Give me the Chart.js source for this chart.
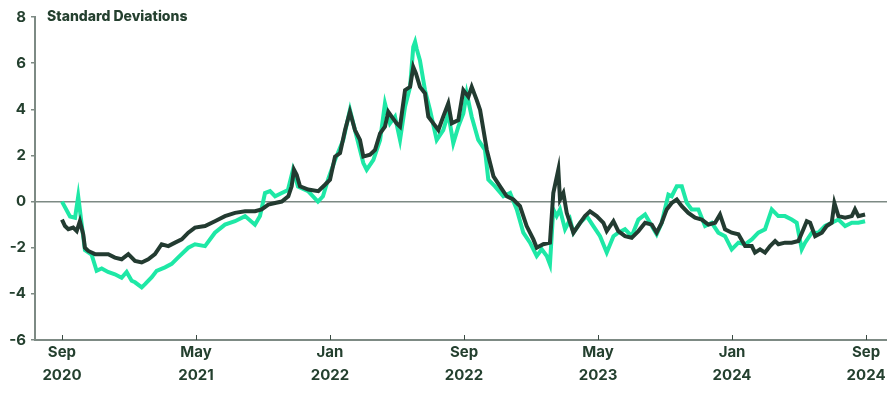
<!DOCTYPE html>
<html>
<head>
<meta charset="utf-8">
<script src="https://cdn.jsdelivr.net/npm/chart.js@4.4.1/dist/chart.umd.min.js"></script>
<style>
  html, body { margin: 0; padding: 0; background: #fff; }
  #wrap { width: 887px; height: 405px; }
</style>
</head>
<body>
<div id="wrap"><canvas id="sdChart"></canvas></div>
<script>
// x values are months since Sep 2020
const xTickValues = [0, 8, 16, 24, 32, 40, 48];
const xTickLabels = [['Sep', '2020'], ['May', '2021'], ['Jan', '2022'], ['Sep', '2022'], ['May', '2023'], ['Jan', '2024'], ['Sep', '2024']];

const greenX = [0, 0.48, 0.78, 0.97, 1.18, 1.37, 1.77, 2.07, 2.37, 2.75, 3.16, 3.56, 3.86, 4.16, 4.36, 4.76, 4.96, 5.36, 5.65, 6.15, 6.55, 6.94, 7.54, 7.94, 8.54, 9.13, 9.73, 10.33, 10.93, 11.52, 11.82, 12.12, 12.42, 12.72, 13.12, 13.49, 13.79, 14.09, 14.69, 15.28, 15.58, 15.88, 16.3, 16.79, 17.19, 17.59, 17.99, 18.19, 18.59, 18.99, 19.28, 19.58, 19.88, 20.18, 20.48, 20.78, 20.97, 21.08, 21.18, 21.37, 21.67, 21.97, 22.37, 22.76, 23.06, 23.36, 23.66, 23.96, 24.16, 24.46, 24.85, 25.25, 25.45, 25.85, 26.35, 26.75, 27.15, 27.54, 27.94, 28.34, 28.64, 28.94, 29.13, 29.33, 29.53, 29.73, 30.03, 30.33, 30.53, 30.93, 31.33, 31.72, 32.12, 32.52, 32.92, 33.21, 33.61, 34.01, 34.41, 34.81, 35.21, 35.5, 35.8, 36.2, 36.4, 36.7, 37.0, 37.3, 37.59, 37.99, 38.39, 38.79, 39.18, 39.58, 39.98, 40.38, 40.78, 41.18, 41.57, 41.97, 42.37, 42.76, 43.16, 43.56, 43.86, 44.16, 44.36, 44.76, 45.15, 45.55, 45.95, 46.35, 46.75, 47.15, 47.54, 47.94];
const greenY = [0, -0.65, -0.7, 0.23, -1.0, -2.1, -2.3, -3.0, -2.9, -3.05, -3.15, -3.3, -3.05, -3.43, -3.5, -3.72, -3.58, -3.28, -3.0, -2.85, -2.7, -2.42, -2.0, -1.85, -1.93, -1.35, -1.0, -0.85, -0.63, -1.0, -0.63, 0.37, 0.45, 0.23, 0.37, 0.5, 1.38, 0.65, 0.45, 0.0, 0.23, 0.95, 1.8, 2.67, 3.97, 2.81, 1.67, 1.38, 1.81, 2.67, 4.25, 3.39, 3.68, 2.67, 4.11, 4.97, 6.7, 6.92, 6.6, 6.12, 4.83, 3.97, 2.67, 3.1, 3.82, 2.53, 3.25, 3.82, 4.69, 3.68, 2.67, 2.24, 0.95, 0.66, 0.23, 0.37, -0.34, -1.35, -1.78, -2.36, -2.07, -2.36, -2.72, -0.34, -0.63, -0.34, -1.2, -0.78, -1.35, -0.92, -0.63, -1.06, -1.5, -2.21, -1.5, -1.35, -1.2, -1.5, -0.78, -0.56, -1.06, -1.42, -0.92, 0.3, 0.23, 0.66, 0.66, -0.06, -0.34, -0.34, -1.06, -0.92, -1.35, -1.5, -2.07, -1.78, -1.85, -1.64, -1.35, -1.2, -0.34, -0.63, -0.63, -0.78, -0.92, -2.07, -1.78, -1.35, -1.35, -1.06, -0.92, -0.78, -1.06, -0.92, -0.92, -0.85];

const darkX = [0, 0.18, 0.38, 0.67, 0.88, 1.07, 1.27, 1.37, 1.57, 1.97, 2.37, 2.76, 3.16, 3.56, 3.96, 4.36, 4.76, 5.15, 5.55, 5.95, 6.35, 6.75, 7.15, 7.54, 7.94, 8.54, 9.13, 9.73, 10.33, 10.93, 11.52, 11.92, 12.32, 12.72, 13.12, 13.51, 13.71, 13.85, 14.01, 14.21, 14.7, 15.3, 15.7, 16.0, 16.3, 16.6, 16.9, 17.19, 17.49, 17.79, 17.99, 18.39, 18.69, 18.99, 19.28, 19.48, 19.68, 19.98, 20.18, 20.48, 20.78, 20.97, 21.13, 21.37, 21.67, 21.87, 22.17, 22.47, 22.76, 23.06, 23.27, 23.66, 23.96, 24.26, 24.46, 24.76, 24.96, 25.36, 25.76, 26.15, 26.55, 26.94, 27.34, 27.74, 28.14, 28.34, 28.73, 29.13, 29.33, 29.63, 29.73, 29.93, 30.13, 30.53, 30.93, 31.22, 31.52, 31.92, 32.32, 32.52, 32.92, 33.21, 33.61, 34.01, 34.41, 34.81, 35.21, 35.5, 35.8, 36.1, 36.4, 36.7, 37.0, 37.39, 37.79, 38.19, 38.59, 38.99, 39.28, 39.58, 39.98, 40.38, 40.78, 41.18, 41.37, 41.67, 41.97, 42.27, 42.57, 42.77, 43.16, 43.56, 43.96, 44.26, 44.46, 44.66, 44.96, 45.36, 45.65, 45.95, 46.11, 46.35, 46.75, 47.15, 47.34, 47.54, 47.94];
const darkY = [-0.78, -1.06, -1.2, -1.13, -1.28, -0.85, -1.42, -2.0, -2.14, -2.28, -2.28, -2.28, -2.43, -2.5, -2.28, -2.57, -2.64, -2.5, -2.28, -1.85, -1.93, -1.78, -1.64, -1.35, -1.13, -1.06, -0.85, -0.63, -0.49, -0.42, -0.42, -0.34, -0.13, -0.06, 0.0, 0.23, 0.66, 1.38, 1.16, 0.66, 0.52, 0.45, 0.73, 0.95, 1.95, 2.1, 3.1, 3.89, 3.1, 2.67, 1.95, 2.03, 2.24, 2.96, 3.25, 3.89, 3.68, 3.39, 3.25, 4.83, 4.97, 5.83, 5.55, 4.97, 4.69, 3.68, 3.39, 3.1, 3.68, 4.25, 3.39, 3.53, 4.83, 4.54, 4.97, 4.4, 3.97, 2.24, 1.09, 0.66, 0.23, 0.09, -0.2, -1.06, -1.64, -2.0, -1.85, -1.78, 0.37, 1.38, 0.09, 0.37, -0.49, -1.35, -0.92, -0.63, -0.42, -0.63, -0.92, -1.28, -0.85, -1.28, -1.5, -1.57, -1.28, -0.92, -1.0, -1.35, -0.92, -0.34, -0.06, 0.09, -0.2, -0.49, -0.7, -0.78, -1.0, -0.92, -0.56, -1.2, -1.35, -1.42, -1.93, -1.93, -2.21, -2.07, -2.21, -1.93, -1.71, -1.85, -1.78, -1.78, -1.71, -1.2, -0.85, -0.92, -1.5, -1.35, -1.06, -0.92, -0.06, -0.63, -0.7, -0.63, -0.34, -0.63, -0.56];

const textColor = '#24402f';
const axisColor = '#7d8a84';
const fontFamily = 'Inter, "Noto Sans", sans-serif';

function pairs(xs, ys) {
    return xs.map((x, i) => ({ x: x, y: ys[i] }));
}

// title inside the plot + inward x tick marks
const extras = {
    id: 'extras',
    afterDraw(chart) {
        const ctx = chart.ctx;
        const area = chart.chartArea;
        const xs = chart.scales.x;
        const ys = chart.scales.y;
        ctx.save();
        ctx.strokeStyle = '#3a4a43';
        ctx.lineWidth = 1;
        xTickValues.forEach(v => {
            const px = Math.round(xs.getPixelForValue(v)) + 0.5;
            ctx.beginPath();
            ctx.moveTo(px, area.bottom);
            ctx.lineTo(px, area.bottom - 5);
            ctx.stroke();
        });
        ctx.fillStyle = textColor;
        ctx.font = '800 14px ' + fontFamily;
        ctx.textBaseline = 'middle';
        ctx.textAlign = 'left';
        ctx.fillText('Standard Deviations', area.left + 12, ys.getPixelForValue(8));
        ctx.restore();
    }
};

const ctx = document.getElementById('sdChart').getContext('2d');
const sdChart = new Chart(ctx, {
    type: 'line',
    data: {
        datasets: [{
            data: pairs(darkX, darkY),
            borderColor: '#233b31',
            borderWidth: 4,
            pointRadius: 0,
            tension: 0
        }, {
            data: pairs(greenX, greenY),
            borderColor: '#1ee8a6',
            borderWidth: 4,
            pointRadius: 0,
            tension: 0
        }]
    },
    options: {
        responsive: true,
        maintainAspectRatio: false,
        animation: false,
        layout: {
            padding: { top: 17, right: 0, bottom: 0, left: 0 }
        },
        plugins: {
            legend: { display: false },
            tooltip: { enabled: false }
        },
        scales: {
            x: {
                type: 'linear',
                min: -1.61,
                max: 49.25,
                afterBuildTicks: s => { s.ticks = xTickValues.map(v => ({ value: v })); },
                afterFit: s => { s.height = 65; },
                grid: { display: false, drawTicks: false },
                border: { color: axisColor, width: 2 },
                ticks: {
                    padding: 1,
                    maxRotation: 0,
                    color: textColor,
                    font: { family: fontFamily, size: 15, weight: 'bold', lineHeight: 1.55 },
                    callback: (v, i) => xTickLabels[i]
                }
            },
            y: {
                min: -6,
                max: 8,
                afterFit: s => { s.width = 35; },
                grid: {
                    drawOnChartArea: true,
                    color: c => c.tick && c.tick.value === 0 ? axisColor : 'rgba(0,0,0,0)',
                    lineWidth: 1.5,
                    tickColor: axisColor,
                    tickLength: 4
                },
                border: { color: axisColor, width: 2 },
                ticks: {
                    stepSize: 2,
                    padding: 5,
                    color: textColor,
                    font: { family: fontFamily, size: 15, weight: 'bold' }
                }
            }
        }
    },
    plugins: [extras]
});
</script>
</body>
</html>
